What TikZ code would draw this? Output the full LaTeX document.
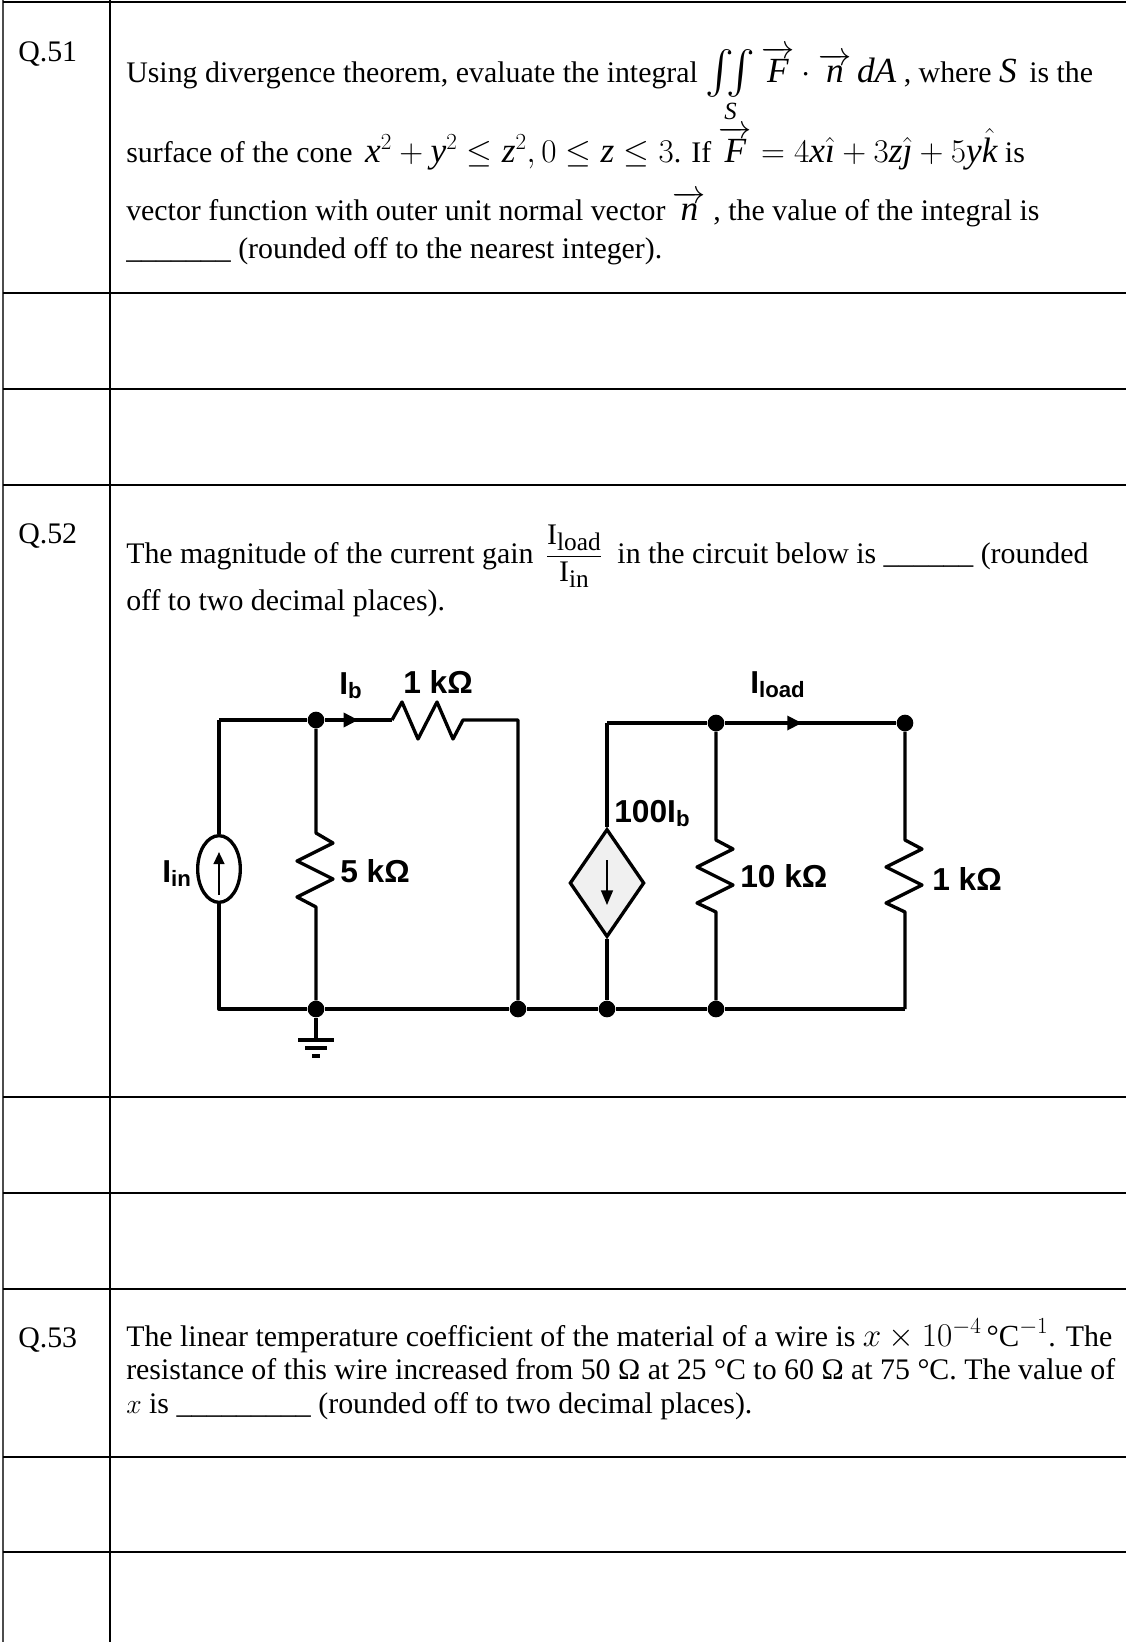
\documentclass[tikz,border=0pt]{standalone}
\usepackage{amsmath}
\usepackage{graphicx}
\usepackage{fontspec}
\setmainfont{Liberation Serif}
\newfontfamily\circfont{Liberation Sans}
\usetikzlibrary{arrows.meta,shapes.geometric,decorations.markings}

\newcommand{\vi}[1]{\textit{#1}}
\newcommand{\bigiint}{\mathop{\vcenter{\hbox{\scalebox{1.3}{$\iint$}}}}\limits}
\newcommand{\mbig}{\fontsize{26.5}{26}\selectfont}

\tikzset{
	txt/.style={anchor=base west, inner sep=0pt, font=\fontsize{22.4}{26}\selectfont},
	lbl/.style={anchor=base west, inner sep=0pt, font=\circfont\bfseries\fontsize{23.8}{26}\selectfont},
	wire/.style={line width=2.5pt, line join=round},
	dot/.style={circle, fill=black, inner sep=0pt, minimum size=12.5pt},
	thk/.style={line width=1.6pt},
	thn/.style={line width=1pt},
	curarrow/.style={postaction={decorate, decoration={markings,
		mark=at position #1 with {\arrow{Triangle[length=11pt, width=10.5pt]}}}}},
}

\begin{document}
\begin{tikzpicture}[x=0.75pt, y=-0.75pt]
	\useasboundingbox (0,0) rectangle (1126,1642);
	% table
	\draw[line width=1pt, black!70] (3,0) -- (3,1642);
	\draw[thn] (110,0) -- (110,1642);
	\draw[thk] (3,2) -- (1126,2);
	\draw[thk] (3,293) -- (1126,293);
	\draw[thk] (3,389) -- (1126,389);
	\draw[thn] (3,485) -- (1126,485);
	\draw[thn] (3,1097) -- (1126,1097);
	\draw[thk] (3,1193) -- (1126,1193);
	\draw[thk] (3,1289) -- (1126,1289);
	\draw[thk] (3,1457) -- (1126,1457);
	\draw[thn] (3,1552) -- (1126,1552);

	% Q.51
	\node[txt] (q51) at (18,61) {Q.51};
	\node[txt] (q51a) at (126,82) {Using divergence theorem, evaluate the integral
		{\mbig$\bigiint_{\vi{S}}\overrightarrow{\vi{F}}\cdot\overrightarrow{\vi{n}}\,\vi{dA}$} , where
		{\mbig\vi{S}}\, is the};
	\node[txt] (q51b) at (126,162) {surface of the cone\,
		{\mbig$\vi{x}^2+\vi{y}^2\le \vi{z}^2,0\le \vi{z}\le 3$}. If
		{\mbig$\overrightarrow{\vi{F}}=4\vi{x}\hat{\vi{\i}}+3\vi{z}\hat{\vi{\j}}+5\vi{y}\hat{\vi{k}}$} is};
	\node[txt] (q51c) at (126,220) {vector function with outer unit normal vector
		{\mbig$\overrightarrow{\vi{n}}$} , the value of the integral is};
	\node[txt] (q51d) at (126,258) {\_\_\_\_\_\_\_ (rounded off to the nearest integer).};

	% Q.52
	\node[txt] (q52) at (18,543) {Q.52};
	\node[txt] (q52a) at (126,563) {The magnitude of the current gain
		$\,\dfrac{\text{I\raisebox{-0.2em}{\fontsize{19}{19}\selectfont load}}}
		{\text{I\raisebox{-0.2em}{\fontsize{19}{19}\selectfont in}}}\;$
		in the circuit below is \_\_\_\_\_\_ (rounded};
	\node[txt] (q52b) at (126,610) {off to two decimal places).};

	% circuit
	\coordinate (tl) at (219,720);
	\node[dot] (jb) at (316,720) {};
	\coordinate (ra) at (392,720);
	\coordinate (rb) at (463,720);
	\coordinate (tr) at (518,720);
	\coordinate (bl) at (219,1009);
	\node[dot] (jg) at (316,1009) {};
	\node[dot] (jm) at (518,1009) {};
	\node[dot] (jd) at (607,1009) {};
	\node[dot] (jl) at (716,1009) {};
	\coordinate (br) at (905,1009);
	\coordinate (dt) at (607,723);
	\node[dot] (jt) at (716,723) {};
	\node[dot] (jo) at (905,723) {};
	\coordinate (gnd) at (316,1040);

	\node[ellipse, draw, line width=2.5pt, inner sep=0pt, minimum width=32pt,
		minimum height=50pt] (src) at (219,869) {};
	\draw[line width=1.6pt, -{Triangle[length=9pt, width=8pt]}] (219,895) -- (219,852);
	\node[diamond, draw, line width=2.5pt, fill=black!6, inner sep=0pt,
		minimum width=56pt, minimum height=81pt] (dep) at (607,883) {};
	\draw[line width=1.1pt, -{Triangle[length=11pt, width=9pt]}] (607,860) -- (607,905);

	\draw[wire] (tl) -- (jb);
	\draw[wire, curarrow=0.5] (jb) -- (ra);
	\draw[wire] (ra) -- ++(10,-18) -- ++(16,37) -- ++(19,-37) -- ++(16,37) -- (rb) -- (tr) -- (jm);
	\draw[wire] (tl) -- (src.north);
	\draw[wire] (src.south) -- (bl) -- (jg) -- (jm) -- (jd) -- (jl) -- (br);
	\draw[wire] (jb) -- (316,833) -- ++(17,10) -- ++(-36,18) -- ++(36,18) -- ++(-36,18)
		-- ++(19,10) -- (jg);
	\draw[wire] (jg) -- (gnd);
	\draw[wire] (gnd) ++(-18,0) -- ++(36,0);
	\draw[wire] (gnd) ++(-11,8) -- ++(22,0);
	\draw[wire] (gnd) ++(-4,16) -- ++(8,0);
	\draw[wire] (dt) -- (jt);
	\draw[wire, curarrow=0.45] (jt) -- (jo);
	\draw[wire] (dt) -- (dep.north);
	\draw[wire] (dep.south) -- (jd);
	\draw[wire] (jt) -- (716,840) -- ++(17,9) -- ++(-36,18) -- ++(36,18) -- ++(-36,18)
		-- ++(19,9) -- (jl);
	\draw[wire] (jo) -- (905,840) -- ++(17,9) -- ++(-36,18) -- ++(36,18) -- ++(-36,18)
		-- ++(19,9) -- (br);

	\node[lbl] (ib) at (339,694) {I\textsubscript{b}};
	\node[lbl] (r1) at (403,693) {1 kΩ};
	\node[lbl] (iin) at (162,882) {I\textsubscript{in}};
	\node[lbl] (r5) at (340,882) {5 kΩ};
	\node[lbl] (iload) at (750,693) {I\textsubscript{load}};
	\node[lbl] (gain) at (614,822) {100I\textsubscript{b}};
	\node[lbl] (r10) at (740,887) {10 kΩ};
	\node[lbl] (rl) at (932,890) {1 kΩ};

	% Q.53
	\node[txt] (q53) at (18,1347) {Q.53};
	\node[txt] (q53a) at (126,1346) {The linear temperature coefficient of the material of a wire is
		{\fontsize{23}{26}\selectfont$x\times10^{-4}$\,°C$^{-1}$}. The};
	\node[txt] (q53b) at (126,1379) {resistance of this wire increased from 50 Ω at 25 °C to 60 Ω at 75 °C. The value of};
	\node[txt] (q53c) at (126,1413) {$x$ is \_\_\_\_\_\_\_\_\_ (rounded off to two decimal places).};
\end{tikzpicture}
\end{document}
